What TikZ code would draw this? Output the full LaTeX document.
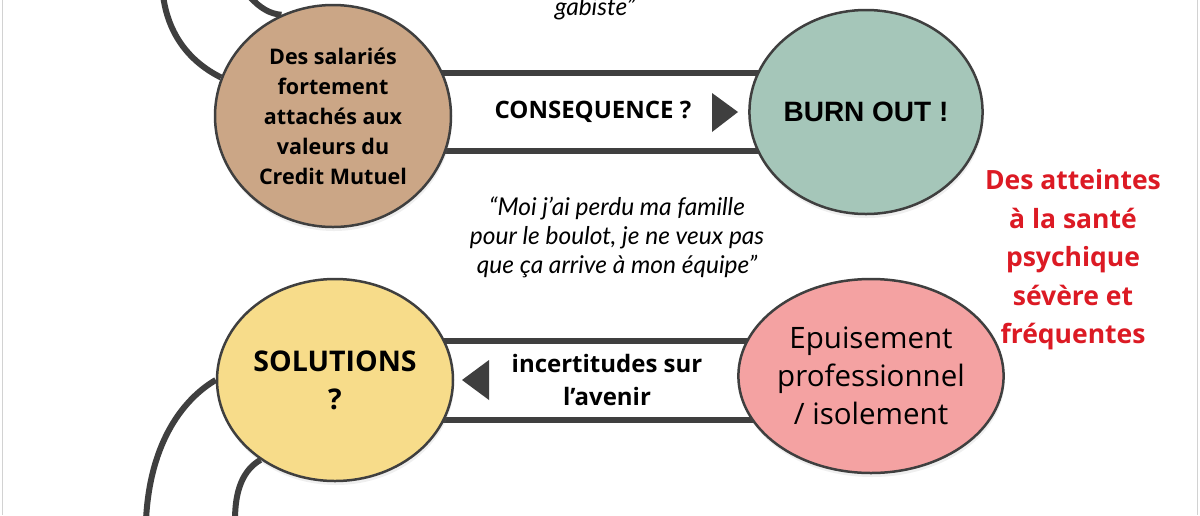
\documentclass[tikz,border=0pt]{standalone}
\usepackage{fontspec}
\setmainfont{Open Sans}
\newfontfamily\quotefont{Lato}
\newfontfamily\burnfont{Liberation Sans}
\usetikzlibrary{shapes.geometric,backgrounds,shadows}

\definecolor{linegrey}{HTML}{3F3F3F}
\definecolor{brownfill}{HTML}{CBA686}
\definecolor{greenfill}{HTML}{A5C6B9}
\definecolor{yellowfill}{HTML}{F7DC8A}
\definecolor{pinkfill}{HTML}{F4A2A2}
\definecolor{alertred}{HTML}{DC1A24}
\definecolor{framegrey}{HTML}{D2D2D2}

\begin{document}
\begin{tikzpicture}[x=1pt,y=-1pt]
    \tikzstyle{bubble}=[ellipse,draw=linegrey,line width=2.5pt,inner sep=0pt,align=center,
        drop shadow={opacity=0.12,shadow xshift=1pt,shadow yshift=-4pt}]
    \tikzstyle{band}=[draw=linegrey,line width=6pt]
    \tikzstyle{loop}=[draw=linegrey,line width=6pt]
    \tikzstyle{label}=[align=center,inner sep=0pt]
    \useasboundingbox (0,0) rectangle (1200,515);

    % the four bubbles
    \node[bubble,fill=brownfill,minimum width=236pt,minimum height=222pt,
          font=\bfseries\fontsize{21.5}{30}\selectfont] (salaries) at (333,116)
        {Des salariés\\fortement\\attachés aux\\valeurs du\\Credit Mutuel};
    \node[bubble,fill=greenfill,minimum width=232pt,minimum height=204pt,
          font=\burnfont\bfseries\fontsize{28}{32}\selectfont] (burnout) at (866,112) {BURN OUT !};
    \node[bubble,fill=yellowfill,minimum width=236pt,minimum height=202pt,
          font=\bfseries\fontsize{28.5}{38}\selectfont] (solutions) at (335,380) {SOLUTIONS\\?};
    \node[bubble,fill=pinkfill,minimum width=262pt,minimum height=194pt,
          font=\fontsize{29.5}{38}\selectfont] (epuisement) at (871,376)
        {Epuisement\\professionnel\\/ isolement};

    % bands between the bubbles
    \begin{scope}[on background layer]
        \fill[white] (0,0) rectangle (1200,515);
        \draw[framegrey,line width=1pt] (2,0) -- (2,515);
        \draw[framegrey,line width=1pt] (1197,0) -- (1197,515);

        \draw[band] (salaries.center |- 0,73) -- (burnout.center |- 0,73);
        \draw[band] (salaries.center |- 0,151) -- (burnout.center |- 0,151);
        \draw[band] (solutions.center |- 0,341) -- (epuisement.center |- 0,341);
        \draw[band] (solutions.center |- 0,420) -- (epuisement.center |- 0,420);

        \coordinate (loop-a) at (163,-5);
        \coordinate (loop-b) at (250,-3);
        \coordinate (loop-c) at (146,520);
        \coordinate (loop-d) at (235,520);
        \draw[loop] (loop-a) .. controls (168,35) and (190,62) .. (salaries.161);
        \draw[loop] (loop-b) .. controls (260,8) and (270,14) .. (salaries.117);
        \draw[loop] (solutions.180) .. controls (185,398) and (150,440) .. (loop-c);
        \draw[loop] (solutions.227) .. controls (243,470) and (235,490) .. (loop-d);
    \end{scope}

    \node[label,font=\bfseries\fontsize{24}{26}\selectfont] (consequence) at (593,112) {CONSEQUENCE ?};
    \fill[linegrey] (712,93) -- (738,112) -- (712,132) -- cycle;
    \node[label,font=\bfseries\fontsize{24}{33}\selectfont] (incertitudes) at (607,380) {incertitudes sur\\l’avenir};
    \fill[linegrey] (489,360) -- (462,380) -- (489,400) -- cycle;

    % quotes
    \node[label,anchor=base,font=\quotefont\itshape\fontsize{24.5}{29}\selectfont] (quote-top) at (595,15) {gabiste”};
    \node[label,font=\quotefont\itshape\fontsize{24.5}{29}\selectfont] (quote-mid) at (617,237)
        {“Moi j’ai perdu ma famille\\pour le boulot, je ne veux pas\\que ça arrive à mon équipe”};

    \node[label,text=alertred,font=\bfseries\fontsize{26.5}{38.5}\selectfont] (atteintes) at (1073,260)
        {Des atteintes\\à la santé\\psychique\\sévère et\\fréquentes};
\end{tikzpicture}
\end{document}
